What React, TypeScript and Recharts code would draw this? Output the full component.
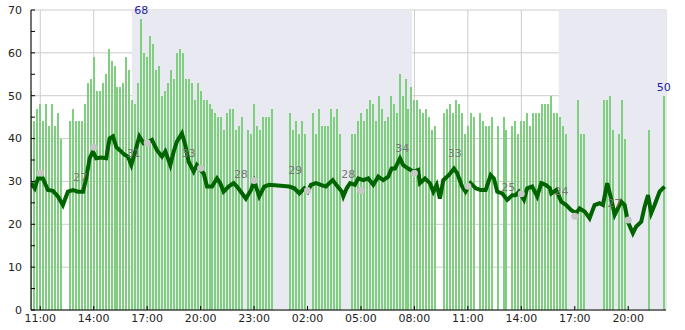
import {
  ComposedChart,
  Bar,
  Line,
  Scatter,
  XAxis,
  YAxis,
  CartesianGrid,
  ReferenceArea,
  LabelList,
} from "recharts";

// time is hours since midnight of the first day, bars every 10 minutes from 10:30
const BAR_START = 10.5;
const BAR_STEP = 1 / 6;

const BAR_VALUES: (number | null)[] = [
  51, 44, 47, 48, 44, 48, 43, 48, 43, 46, 40, null, null, 44, 47, 44, 44, 44, 48, 53,
  54, 59, 51, 51, 53, 55, 61, 58, 57, 52, 52, 53, 59, 56, 49, 48, 53, 68, 60, 59,
  64, 62, 56, 57, 50, 51, 53, 56, 54, 60, 61, 60, 54, 54, 53, 49, 53, 51, 49, 49,
  48, 47, 46, 45, 45, 42, 46, 47, 47, 42, 43, 45, null, 42, 41, 48, 43, 42, 45, 45,
  45, 47, null, null, null, null, null, 46, 42, 44, 41, 44, 41, null, null, 46, 41, 47, 43, 43,
  43, 47, 45, 47, 41, null, null, null, 41, 41, 44, 46, 44, 47, 49, 48, 44, 50, 47, 44,
  45, 50, 48, 46, 55, 50, 54, 47, 52, 49, 49, 47, 46, 47, 45, 42, 43, null, null, 46,
  47, 48, 46, 49, 48, 46, 41, 43, 46, 45, null, 46, 44, 43, 43, 45, null, 43, null, 45,
  42, null, 43, 44, 41, 44, 44, 46, 43, 46, 46, 46, 48, 48, 48, 50, 46, 46, 45, 43,
  41, null, null, null, 49, 41, 41, null, null, null, null, null, null, 49, 49, 50, 42, null, 41, 49,
  40, null, null, null, null, null, null, null, 42, null, null, null, null, 50,
];

const LINE_TIMES = [
  10.49, 10.69, 10.87, 11.15, 11.43, 11.71, 11.99, 12.27, 12.55, 12.84, 13.12, 13.4, 13.58, 13.77,
  13.96, 14.14, 14.42, 14.7, 14.89, 15.08, 15.27, 15.46, 15.74, 15.92, 16.11, 16.33, 16.56, 16.8,
  17.08, 17.27, 17.55, 17.83, 18.02, 18.3, 18.49, 18.67, 18.95, 19.14, 19.33, 19.61, 19.79, 19.98,
  20.17, 20.36, 20.64, 20.92, 21.1, 21.29, 21.57, 21.85, 22.04, 22.26, 22.54, 22.83, 23.01, 23.29,
  23.57, 23.85, 24.97, 25.26, 25.54, 25.82, 26.01, 26.19, 26.47, 26.75, 27.03, 27.41, 27.69, 27.93,
  28.01, 28.2, 28.39, 28.66, 28.85, 29.13, 29.41, 29.69, 29.97, 30.25, 30.53, 30.72, 30.91, 31.19,
  31.37, 31.65, 31.93, 32.21, 32.31, 32.59, 32.87, 33.06, 33.25, 33.43, 33.62, 33.94, 34.22, 34.4,
  34.68, 34.87, 35.15, 35.44, 35.72, 36.0, 36.28, 36.46, 36.65, 36.93, 37.21, 37.49, 37.68, 37.87,
  38.15, 38.33, 38.61, 38.89, 39.12, 39.36, 39.61, 39.68, 39.96, 40.24, 40.52, 40.8, 41.08, 41.27,
  41.55, 41.83, 42.11, 42.39, 42.58, 42.82, 43.04, 43.24, 43.42, 43.61, 43.8, 43.98, 44.26, 44.45,
  44.73, 44.92, 45.11, 45.29, 45.48, 45.76, 46.04,
];

const LINE_VALUES = [
  29.6, 28.4, 30.7, 30.7, 28, 27.8, 26.5, 24.5, 27.6, 28, 27.6, 27.6, 30.7, 35.4,
  37, 35.4, 35.6, 35.4, 40, 40.5, 38, 37.3, 36.2, 35.8, 33.8, 37, 40.5, 38.9,
  39.3, 39.7, 37.3, 35.8, 37, 33.8, 37, 39.3, 41.2, 38.5, 34.6, 32.3, 33.8, 32.7,
  31.9, 28.8, 28.8, 30.7, 29.6, 27.6, 28.8, 29.6, 28.8, 27.6, 26, 28, 30, 26.5,
  28.8, 29.2, 28.8, 28.4, 27.2, 28.4, 27.6, 29.2, 29.6, 29.2, 28.8, 30.3, 28.8, 27.6,
  26.5, 28.4, 29.6, 29.2, 30.7, 30.3, 30.7, 29.2, 31.1, 30.3, 31.1, 33, 33, 35.4,
  33.8, 33, 32.3, 32.7, 29.6, 30.7, 29.6, 27.6, 29.2, 26, 30.3, 31.5, 33, 31.9,
  28.8, 27.6, 29.6, 28.4, 28, 28, 31.5, 30.7, 27.6, 27.2, 25.7, 26.8, 26.8, 27.6,
  25.7, 28.4, 28.8, 26.5, 29.6, 29.2, 28.4, 27.2, 28, 25.3, 24.5, 23.3, 22.6, 23.7,
  23, 21.4, 24.5, 24.9, 24.5, 29.6, 26, 22.2, 23.7, 25.3, 24.5, 20.6, 17.9, 19.5,
  20.6, 24.1, 26.8, 22.6, 24.5, 27.6, 28.8,
];

const DOT_TIMES = [11, 14, 17, 20, 23, 26, 29, 32, 35, 38, 41, 44];
const DOT_VALUES = [32, 38, 39, 33.1, 30.2, 27.9, 27.9, 31.9, 28.9, 27.1, 21.9, 21];

const NOTE_TIMES = [13.24, 16.24, 19.33, 22.26, 25.31, 28.29, 31.32, 34.27, 37.27, 40.26, 43.21];
const NOTE_LEVELS = [30.9, 36.6, 36.7, 31.7, 32.7, 31.7, 37.8, 36.6, 28.6, 27.8, 24.9];
const NOTE_TEXTS = ["27", "31", "33", "28", "29", "28", "34", "33", "25", "24", "27"];

const NIGHTS: [number, number][] = [
  [16.15, 31.87],
  [40.1, 46.12],
];

const X_DOMAIN: [number, number] = [10.48, 46.12];
const X_TICKS = [11, 14, 17, 20, 23, 26, 29, 32, 35, 38, 41, 44];
const Y_TICKS = [0, 5, 10, 15, 20, 25, 30, 35, 40, 45, 50, 55, 60, 65, 70];
const Y_GRID = [0, 10, 20, 30, 40, 50, 60, 70];

const FONT = "DejaVu Sans, Verdana, sans-serif";

// the highest bar and the last bar get a value label
let maxIdx = 0;
BAR_VALUES.forEach((v, i) => {
  if (v != null && v > (BAR_VALUES[maxIdx] ?? 0)) maxIdx = i;
});
let lastIdx = BAR_VALUES.length - 1;
while (lastIdx > 0 && BAR_VALUES[lastIdx] == null) lastIdx--;

const barData = BAR_VALUES.map((v, i) => ({
  t: BAR_START + i * BAR_STEP,
  v,
  note: i === maxIdx || i === lastIdx ? v : null,
}));
const lineData = LINE_TIMES.map((t, i) => ({ t, v: LINE_VALUES[i] }));
const dotData = DOT_TIMES.map((t, i) => ({ t, v: DOT_VALUES[i] }));
const noteData = NOTE_TIMES.map((t, i) => ({ t, v: NOTE_LEVELS[i], text: NOTE_TEXTS[i] }));

function hourLabel(h: number): string {
  const hh = ((h % 24) + 24) % 24;
  return `${String(Math.floor(hh)).padStart(2, "0")}:00`;
}

// bars are 2px wide, snapped to whole pixels so they stay crisp
function ThinBar(p: any) {
  if (p.height == null || p.height <= 0) return <g />;
  const cx = p.x + p.width / 2;
  const top = Math.round(p.y);
  const bottom = Math.round(p.y + p.height);
  return (
    <rect x={Math.round(cx - 1)} y={top} width={2} height={bottom - top} fill="#80cf80" />
  );
}

function BarNote(p: any) {
  if (p.value == null) return null;
  return (
    <text
      x={p.x + p.width / 2}
      y={p.y - 5}
      textAnchor="middle"
      fontSize={11}
      fontFamily={FONT}
      fill="#1a1aa8"
    >
      {p.value}
    </text>
  );
}

export default function App() {
  return (
    <div style={{ position: "absolute", left: 0, top: 0 }}>
      <ComposedChart
        width={685}
        height={330}
        data={barData}
        margin={{ top: 10, right: 19, bottom: 0, left: 0 }}
      >
        {NIGHTS.map(([a, b]) => (
          <ReferenceArea
            key={a}
            x1={a}
            x2={b}
            fill="#e9eaf1"
            fillOpacity={1}
            stroke="none"
            ifOverflow="hidden"
          />
        ))}
        <CartesianGrid stroke="#cccccc" horizontalValues={Y_GRID} />
        <XAxis
          dataKey="t"
          type="number"
          domain={X_DOMAIN}
          allowDataOverflow
          ticks={X_TICKS}
          tickFormatter={hourLabel}
          height={20}
          tickSize={-4}
          tickMargin={8}
          axisLine={{ stroke: "#000" }}
          tickLine={{ stroke: "#000" }}
          tick={{ fontSize: 11, fill: "#222", fontFamily: FONT }}
        />
        <YAxis
          type="number"
          domain={[0, 70]}
          ticks={Y_TICKS}
          tickFormatter={(v: number) => (v % 10 === 0 ? String(v) : "")}
          width={31}
          tickSize={-4}
          tickMargin={13}
          axisLine={{ stroke: "#000" }}
          tickLine={{ stroke: "#000" }}
          tick={{ fontSize: 11, fill: "#222", fontFamily: FONT }}
        />
        <Bar dataKey="v" fill="#80cf80" shape={ThinBar} isAnimationActive={false}>
          <LabelList dataKey="note" content={BarNote} />
        </Bar>
        <Line
          data={lineData}
          dataKey="v"
          type="linear"
          stroke="#006400"
          strokeWidth={4}
          dot={false}
          activeDot={false}
          isAnimationActive={false}
        />
        <Scatter
          data={dotData}
          dataKey="v"
          isAnimationActive={false}
          shape={(p: any) => <circle cx={p.cx} cy={p.cy} r={3.5} fill="#c8c8c8" />}
        />
        <Scatter
          data={noteData}
          dataKey="v"
          isAnimationActive={false}
          shape={(p: any) => (
            <text
              x={p.cx}
              y={p.cy}
              dy="0.35em"
              textAnchor="middle"
              fontSize={11}
              fontFamily={FONT}
              fill="#777"
            >
              {p.payload.text}
            </text>
          )}
        />
      </ComposedChart>
    </div>
  );
}
